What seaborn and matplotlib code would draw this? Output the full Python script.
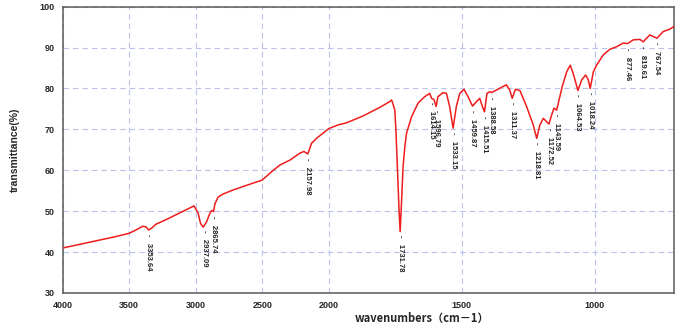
import numpy as np
import pandas as pd
import matplotlib
matplotlib.use('Agg')
import matplotlib.pyplot as plt
import seaborn as sns

# spectrum (wavenumber cm-1, transmittance %)
wavenumber = [4000, 3900, 3800, 3700, 3600, 3500, 3450, 3400, 3375, 3354, 3330, 3300,
              3200, 3100, 3013, 2982, 2964, 2944, 2919, 2894, 2880, 2866, 2856, 2831,
              2794, 2719, 2593, 2501, 2418, 2367, 2292, 2217, 2187, 2158, 2130, 2093,
              2000, 1965, 1934, 1871, 1808, 1771, 1764, 1758, 1752, 1748, 1742, 1736,
              1732, 1727, 1721, 1714, 1708, 1689, 1665, 1640, 1621, 1614, 1605, 1597,
              1590, 1571, 1558, 1546, 1533, 1521, 1508, 1492, 1477, 1460, 1445, 1433,
              1421, 1415, 1406, 1395, 1389, 1371, 1333, 1320, 1311, 1299, 1282, 1257,
              1232, 1219, 1207, 1194, 1182, 1173, 1163, 1154, 1144, 1123, 1106, 1093,
              1081, 1064, 1050, 1035, 1025, 1018, 1006, 994, 969, 944, 919, 894, 877,
              856, 831, 819, 794, 767, 744, 719, 700]
transmittance = [41.0, 41.7, 42.4, 43.1, 43.8, 44.6, 45.4, 46.3, 46.2, 45.4, 45.9, 46.8,
                 48.3, 49.9, 51.3, 49.5, 47.0, 46.1, 47.4, 49.5, 50.2, 49.9, 51.8, 53.5,
                 54.2, 55.2, 56.6, 57.6, 60.0, 61.3, 62.5, 64.2, 64.6, 64.0, 66.6, 67.8,
                 70.2, 71.1, 71.6, 73.3, 75.4, 76.8, 77.2, 76.0, 74.7, 70.0, 60.0, 50.0,
                 45.0, 52.0, 61.0, 66.0, 69.1, 73.1, 76.4, 78.0, 78.8, 77.6, 77.3, 75.6,
                 78.0, 79.0, 78.8, 75.6, 70.3, 75.6, 78.8, 79.8, 78.0, 75.7, 76.8, 77.6,
                 75.2, 74.3, 78.8, 79.2, 79.0, 79.6, 80.9, 79.6, 77.6, 79.8, 79.5, 75.6,
                 71.1, 67.8, 71.1, 72.7, 71.9, 71.3, 73.5, 75.2, 74.7, 80.5, 84.1, 85.7,
                 83.5, 79.5, 82.1, 83.3, 82.1, 80.0, 84.1, 85.7, 88.2, 89.6, 90.2, 91.1, 91.0,
                 91.9, 92.0, 91.4, 93.1, 92.3, 93.9, 94.5, 95.3]

# peak labels
peak_wn = [3353.64, 2937.09, 2865.74, 2157.98, 1731.78, 1614.15, 1596.79, 1533.15,
           1459.87, 1415.51, 1388.58, 1311.37, 1218.81, 1172.52, 1143.59, 1064.53,
           1018.24, 877.46, 819.61, 767.54]
peak_labels = ['3353.64', '2937.09', '2865.74', '2157.98', '1731.78', '1614.15', '1596.79',
               '1533.15', '1459.87', '1415.51', '1388.58', '1311.37', '1218.81', '1172.52',
               '1143.59', '1064.53', '1018.24', '877.46', '819.61', '767.54']

x_ticks = [4000, 3500, 3000, 2500, 2000, 1500, 1000]
y_ticks = [30, 40, 50, 60, 70, 80, 90, 100]

df = pd.DataFrame({'wavenumber': wavenumber, 'transmittance': transmittance})

sns.set_style('white')
plt.rcParams['font.family'] = ['Liberation Sans', 'DejaVu Sans']

fig = plt.figure(figsize=(6.8, 3.35), dpi=100)
ax = fig.add_axes([0.0922, 0.1254, 0.9912 - 0.0922, 0.98 - 0.1254])


# FTIR axis: scale doubles below 2000 cm-1
def fwd(x):
    x = np.asarray(x, dtype=float)
    return np.where(x >= 2000, x, 2 * x - 2000)


def inv(y):
    y = np.asarray(y, dtype=float)
    return np.where(y >= 2000, y, (y + 2000) / 2)


ax.set_xscale('function', functions=(fwd, inv))

sns.lineplot(data=df, x='wavenumber', y='transmittance', ax=ax, color='#ee1c1c',
             linewidth=1.1, sort=False, estimator=None, zorder=3)

ax.set_xlim(4000, 703)
ax.set_ylim(30, 100)
ax.set_xticks(x_ticks)
ax.set_yticks(y_ticks)
ax.minorticks_off()
ax.grid(True, color='#bcc3ea', linestyle=(0, (5, 3.5)), linewidth=0.8)

for s in ax.spines.values():
    s.set_color('#5a5a5a')
    s.set_linewidth(1.1)
ax.tick_params(direction='out', length=4, width=1, color='#5a5a5a',
               labelsize=6.5, pad=2)
for lab in ax.get_xticklabels() + ax.get_yticklabels():
    lab.set_fontweight('bold')

ax.set_ylabel('transmittance(%)', fontsize=7.5, fontweight='bold', labelpad=14)
ax.set_xlabel('')
fig.text(355 / 680, 1 - 318 / 335, 'wavenumbers（cm－1）', fontsize=8, fontweight='bold',
         ha='left', va='center', family=['Noto Sans CJK JP', 'DejaVu Sans'])

for wn, lab in zip(peak_wn, peak_labels):
    yv = np.interp(wn, wavenumber[::-1], transmittance[::-1])
    ax.annotate('-   ' + lab, xy=(wn, yv), xytext=(0, -3), textcoords='offset points',
                rotation=270, ha='center', va='top', fontsize=5.5,
                fontweight='bold', color='#222222', zorder=4)

plt.savefig('out.png', dpi=100)
plt.close()
